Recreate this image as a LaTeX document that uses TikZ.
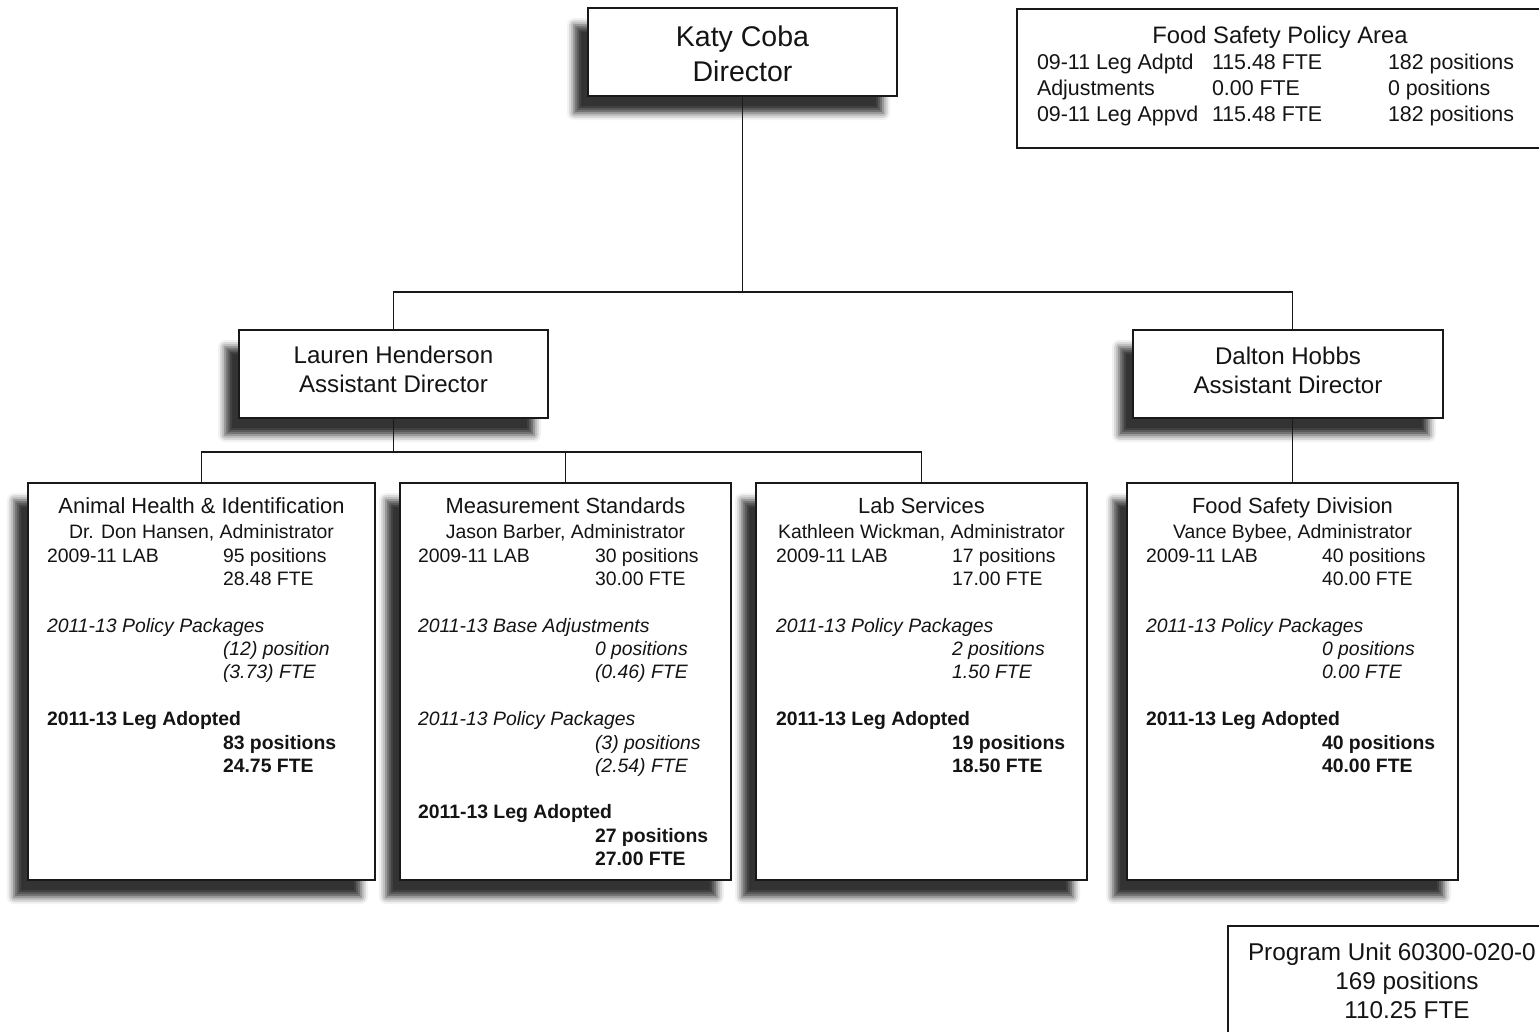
\documentclass[tikz,border=0pt]{standalone}
\usepackage{fontspec}
\setmainfont{Liberation Sans}
\usetikzlibrary{shadows.blur}

\tikzset{
  box/.style={draw=black!90, line width=1.6pt, fill=white, inner sep=0pt, outer sep=0pt,
    anchor=north west,
    blur shadow={shadow xshift=-14pt, shadow yshift=-17pt, shadow blur radius=7pt, shadow opacity=80}},
  plainbox/.style={draw=black!90, line width=1.6pt, fill=white, inner sep=0pt, outer sep=0pt, anchor=north west},
  conn/.style={draw=black!90, line width=1.7pt},
  txt/.style={inner sep=0pt, outer sep=0pt, text=black!92, anchor=base west, font=\fontsize{19.4}{23}\selectfont},
  ctxt/.style={txt, anchor=base},
  ttl/.style={txt, anchor=base, font=\fontsize{21.9}{26}\selectfont},
  big/.style={txt, anchor=base, font=\fontsize{28.5}{34}\selectfont},
  mid/.style={txt, anchor=base, font=\fontsize{24.1}{29}\selectfont},
  fsp/.style={txt, font=\fontsize{21.4}{26}\selectfont},
  pufont/.style={font=\fontsize{24.3}{29}\selectfont},
}

\begin{document}
\begin{tikzpicture}[x=1pt, y=-1pt]
\useasboundingbox (0,0) rectangle (1539,1031);

% ---------- boxes ----------
\node[box, minimum width=309pt, minimum height=88pt] (dir) at (588,8) {};
\node[box, minimum width=309pt, minimum height=88pt] (lh) at (239,330) {};
\node[box, minimum width=310pt, minimum height=88pt] (dh) at (1133,330) {};
\node[box, minimum width=347pt, minimum height=397pt] (ah) at (28,483) {};
\node[box, minimum width=331pt, minimum height=397pt] (ms) at (400,483) {};
\node[box, minimum width=331pt, minimum height=397pt] (ls) at (756,483) {};
\node[box, minimum width=331pt, minimum height=397pt] (fsd) at (1127,483) {};
\node[plainbox, minimum width=528pt, minimum height=139pt] (fspa) at (1017,9) {};
\node[plainbox, minimum width=340pt, minimum height=130pt] (pu) at (1228,926) {};

% ---------- connectors ----------
\coordinate (j1) at (742.5,292);
\coordinate (j2) at (393.5,452);
\draw[conn] (dir.south) -- (j1);
\draw[conn] (lh.north) |- (j1) -| (fsd.north |- dh.north);
\draw[conn] (lh.south) -- (j2);
\draw[conn] (ah.north) |- (j2) -| (ls.north);
\draw[conn] (ms.north) -- (ms.north |- j2);
\draw[conn] (fsd.north |- dh.south) -- (fsd.north);

% ---------- director ----------
\node[big] (dirA) at (742.5,46) {Katy Coba};
\node[big] (dirB) at (742.5,81) {Director};

% ---------- assistant directors ----------
\node[mid] (lhA) at (393.5,363) {Lauren Henderson};
\node[mid] (lhB) at (393.5,392) {Assistant Director};
\node[mid] (dhA) at (1288,364) {Dalton Hobbs};
\node[mid] (dhB) at (1288,393) {Assistant Director};

% ---------- Food Safety Policy Area ----------
\node[txt, anchor=base, font=\fontsize{23.8}{28}\selectfont] (fspT) at (1280,43) {Food Safety Policy Area};
\node[fsp] (fsp1a) at (1037,69) {09-11 Leg Adptd};
\node[fsp] (fsp1b) at (1212,69) {115.48 FTE};
\node[fsp] (fsp1c) at (1388,69) {182 positions};
\node[fsp] (fsp2a) at (1037,95) {Adjustments};
\node[fsp] (fsp2b) at (1212,95) {0.00 FTE};
\node[fsp] (fsp2c) at (1388,95) {0 positions};
\node[fsp] (fsp3a) at (1037,121) {09-11 Leg Appvd};
\node[fsp] (fsp3b) at (1212,121) {115.48 FTE};
\node[fsp] (fsp3c) at (1388,121) {182 positions};

% ---------- Animal Health ----------
\node[ttl] (ahT) at (201.5,513) {Animal Health \& Identification};
\node[ctxt] (ahA) at (201.5,538) {Dr. Don Hansen, Administrator};
\node[txt] (ahL1) at (47,562) {2009-11 LAB};
\node[txt] (ahR1) at (223,562) {95 positions};
\node[txt] (ahR2) at (223,585) {28.48 FTE};
\node[txt] (ahL2) at (47,632) {\itshape 2011-13 Policy Packages};
\node[txt] (ahR3) at (223,655) {\itshape (12) position};
\node[txt] (ahR4) at (223,678) {\itshape (3.73) FTE};
\node[txt] (ahL3) at (47,725) {\bfseries 2011-13 Leg Adopted};
\node[txt] (ahR5) at (223,749) {\bfseries 83 positions};
\node[txt] (ahR6) at (223,772) {\bfseries 24.75 FTE};

% ---------- Measurement Standards ----------
\node[ttl] (msT) at (565.5,513) {Measurement Standards};
\node[ctxt] (msA) at (565.5,538) {Jason Barber, Administrator};
\node[txt] (msL1) at (418,562) {2009-11 LAB};
\node[txt] (msR1) at (595,562) {30 positions};
\node[txt] (msR2) at (595,585) {30.00 FTE};
\node[txt] (msL2) at (418,632) {\itshape 2011-13 Base Adjustments};
\node[txt] (msR3) at (595,655) {\itshape 0 positions};
\node[txt] (msR4) at (595,678) {\itshape (0.46) FTE};
\node[txt] (msL3) at (418,725) {\itshape 2011-13 Policy Packages};
\node[txt] (msR5) at (595,749) {\itshape (3) positions};
\node[txt] (msR6) at (595,772) {\itshape (2.54) FTE};
\node[txt] (msL4) at (418,818) {\bfseries 2011-13 Leg Adopted};
\node[txt] (msR7) at (595,842) {\bfseries 27 positions};
\node[txt] (msR8) at (595,865) {\bfseries 27.00 FTE};

% ---------- Lab Services ----------
\node[ttl] (lsT) at (921.5,513) {Lab Services};
\node[ctxt] (lsA) at (921.5,538) {Kathleen Wickman, Administrator};
\node[txt] (lsL1) at (776,562) {2009-11 LAB};
\node[txt] (lsR1) at (952,562) {17 positions};
\node[txt] (lsR2) at (952,585) {17.00 FTE};
\node[txt] (lsL2) at (776,632) {\itshape 2011-13 Policy Packages};
\node[txt] (lsR3) at (952,655) {\itshape 2 positions};
\node[txt] (lsR4) at (952,678) {\itshape 1.50 FTE};
\node[txt] (lsL3) at (776,725) {\bfseries 2011-13 Leg Adopted};
\node[txt] (lsR5) at (952,749) {\bfseries 19 positions};
\node[txt] (lsR6) at (952,772) {\bfseries 18.50 FTE};

% ---------- Food Safety Division ----------
\node[ttl] (fsdT) at (1292.5,513) {Food Safety Division};
\node[ctxt] (fsdA) at (1292.5,538) {Vance Bybee, Administrator};
\node[txt] (fsdL1) at (1146,562) {2009-11 LAB};
\node[txt] (fsdR1) at (1322,562) {40 positions};
\node[txt] (fsdR2) at (1322,585) {40.00 FTE};
\node[txt] (fsdL2) at (1146,632) {\itshape 2011-13 Policy Packages};
\node[txt] (fsdR3) at (1322,655) {\itshape 0 positions};
\node[txt] (fsdR4) at (1322,678) {\itshape 0.00 FTE};
\node[txt] (fsdL3) at (1146,725) {\bfseries 2011-13 Leg Adopted};
\node[txt] (fsdR5) at (1322,749) {\bfseries 40 positions};
\node[txt] (fsdR6) at (1322,772) {\bfseries 40.00 FTE};

% ---------- Program Unit ----------
\node[txt, pufont] (puA) at (1248,960) {Program Unit 60300-020-0};
\node[ctxt, pufont] (puB) at (1407,989) {169 positions};
\node[ctxt, pufont] (puC) at (1407,1018) {110.25 FTE};
\end{tikzpicture}
\end{document}
